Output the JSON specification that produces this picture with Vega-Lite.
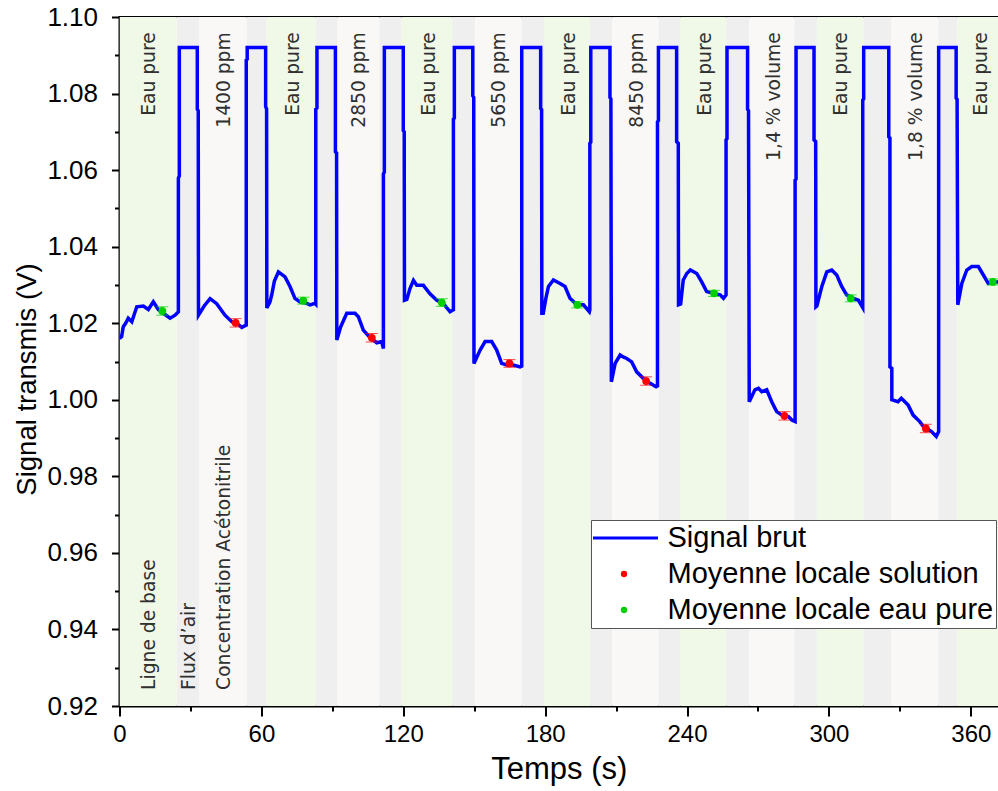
{
  "$schema": "https://vega.github.io/schema/vega-lite/v6.json",
  "width": 878.5,
  "height": 689,
  "autosize": {"type": "none"},
  "padding": {"left": 119.5, "top": 17, "right": 0, "bottom": 85},
  "background": "white",
  "config": {
    "view": {"stroke": "black", "strokeWidth": 2},
    "font": "Liberation Sans",
    "axis": {"grid": false, "labelColor": "black", "titleColor": "black", "tickColor": "black", "domainColor": "black", "domainWidth": 2, "tickWidth": 2, "titleFontWeight": "normal", "labelFont": "Liberation Sans", "titleFont": "Liberation Sans"},
    "legend": {"orient": "none", "legendX": 471.5, "legendY": 503, "padding": 2, "strokeColor": "#555555", "fillColor": "white", "labelFontSize": 29, "labelFont": "Liberation Sans", "labelColor": "black", "labelLimit": 0, "clipHeight": 32, "rowPadding": 4, "labelOffset": 29, "symbolOffset": 16.5}
  },
  "datasets": {
    "bands": [
      {"start": 0, "end": 24.2, "kind": "eau"},
      {"start": 24.2, "end": 33.6, "kind": "air"},
      {"start": 33.6, "end": 53.8, "kind": "sol"},
      {"start": 53.8, "end": 62.0, "kind": "air"},
      {"start": 62.0, "end": 83.0, "kind": "eau"},
      {"start": 83.0, "end": 92.3, "kind": "air"},
      {"start": 92.3, "end": 109.9, "kind": "sol"},
      {"start": 109.9, "end": 119.3, "kind": "air"},
      {"start": 119.3, "end": 140.7, "kind": "eau"},
      {"start": 140.7, "end": 150.3, "kind": "air"},
      {"start": 150.3, "end": 170.1, "kind": "sol"},
      {"start": 170.1, "end": 179.5, "kind": "air"},
      {"start": 179.5, "end": 199.0, "kind": "eau"},
      {"start": 199.0, "end": 208.4, "kind": "air"},
      {"start": 208.4, "end": 227.9, "kind": "sol"},
      {"start": 227.9, "end": 237.1, "kind": "air"},
      {"start": 237.1, "end": 256.6, "kind": "eau"},
      {"start": 256.6, "end": 266.3, "kind": "air"},
      {"start": 266.3, "end": 285.4, "kind": "sol"},
      {"start": 285.4, "end": 294.9, "kind": "air"},
      {"start": 294.9, "end": 314.6, "kind": "eau"},
      {"start": 314.6, "end": 326.3, "kind": "air"},
      {"start": 326.3, "end": 346.3, "kind": "sol"},
      {"start": 346.3, "end": 354.1, "kind": "air"},
      {"start": 354.1, "end": 380, "kind": "eau"}
    ],
    "topLabels": [
      {"x": 12.5, "text": "Eau pure"},
      {"x": 44.2, "text": "1400 ppm"},
      {"x": 73.2, "text": "Eau pure"},
      {"x": 101.4, "text": "2850 ppm"},
      {"x": 131.0, "text": "Eau pure"},
      {"x": 160.6, "text": "5650 ppm"},
      {"x": 190.0, "text": "Eau pure"},
      {"x": 218.7, "text": "8450 ppm"},
      {"x": 247.8, "text": "Eau pure"},
      {"x": 276.7, "text": "1,4 % volume"},
      {"x": 305.2, "text": "Eau pure"},
      {"x": 336.8, "text": "1,8 % volume"},
      {"x": 364.1, "text": "Eau pure"}
    ],
    "bottomLabels": [
      {"x": 12.5, "text": "Ligne de base"},
      {"x": 29.6, "text": "Flux d’air"},
      {"x": 44.2, "text": "Concentration Acétonitrile"}
    ],
    "signal": [
      {"t": 0, "v": 1.0160}, {"t": 0.9, "v": 1.0165}, {"t": 1.6, "v": 1.0191}, {"t": 2.6, "v": 1.0200}, {"t": 3.7, "v": 1.0213}, {"t": 5.2, "v": 1.0204}, {"t": 7.3, "v": 1.0243}, {"t": 10.1, "v": 1.0245}, {"t": 12.2, "v": 1.0236}, {"t": 14.3, "v": 1.0256}, {"t": 16.4, "v": 1.0236}, {"t": 18.5, "v": 1.0226}, {"t": 21.4, "v": 1.0213}, {"t": 23.5, "v": 1.0221}, {"t": 24.9, "v": 1.0230},
      {"t": 24.9, "v": 1.0579}, {"t": 25.3, "v": 1.0585}, {"t": 25.3, "v": 1.0920}, {"t": 32.9, "v": 1.0920}, {"t": 32.9, "v": 1.0759}, {"t": 33.3, "v": 1.0755}, {"t": 33.4, "v": 1.0221},
      {"t": 35.8, "v": 1.0245}, {"t": 38.3, "v": 1.0264}, {"t": 41.1, "v": 1.0251}, {"t": 44.6, "v": 1.0221}, {"t": 47.5, "v": 1.0204}, {"t": 49.6, "v": 1.0200}, {"t": 51.7, "v": 1.0189}, {"t": 53.6, "v": 1.0195},
      {"t": 53.6, "v": 1.0888}, {"t": 54.0, "v": 1.0890}, {"t": 54.0, "v": 1.0920}, {"t": 61.8, "v": 1.0920}, {"t": 61.8, "v": 1.0766}, {"t": 62.2, "v": 1.0760}, {"t": 62.3, "v": 1.0240},
      {"t": 63.6, "v": 1.0255}, {"t": 64.4, "v": 1.0275}, {"t": 65.5, "v": 1.0310}, {"t": 67.2, "v": 1.0334}, {"t": 70.0, "v": 1.0321}, {"t": 72.1, "v": 1.0296}, {"t": 74.2, "v": 1.0265}, {"t": 76.3, "v": 1.0256}, {"t": 79.2, "v": 1.0252}, {"t": 80.6, "v": 1.0248}, {"t": 82.7, "v": 1.0252}, {"t": 83.0, "v": 1.0250},
      {"t": 83.0, "v": 1.0759}, {"t": 83.5, "v": 1.0762}, {"t": 83.5, "v": 1.0920}, {"t": 91.3, "v": 1.0920}, {"t": 91.3, "v": 1.0648}, {"t": 91.8, "v": 1.0645}, {"t": 91.9, "v": 1.0156},
      {"t": 93.5, "v": 1.0190}, {"t": 96.1, "v": 1.0226}, {"t": 99.6, "v": 1.0226}, {"t": 101.0, "v": 1.0217}, {"t": 103.1, "v": 1.0182}, {"t": 105.9, "v": 1.0163}, {"t": 108.8, "v": 1.0149}, {"t": 110.9, "v": 1.0152}, {"t": 111.6, "v": 1.0134},
      {"t": 111.6, "v": 1.0590}, {"t": 112.0, "v": 1.0595}, {"t": 112.0, "v": 1.0920}, {"t": 120.0, "v": 1.0920}, {"t": 120.0, "v": 1.0703}, {"t": 120.4, "v": 1.0700}, {"t": 120.5, "v": 1.0260},
      {"t": 121.5, "v": 1.0262}, {"t": 122.8, "v": 1.0290}, {"t": 124.3, "v": 1.0312}, {"t": 125.7, "v": 1.0299}, {"t": 128.5, "v": 1.0299}, {"t": 131.3, "v": 1.0277}, {"t": 134.2, "v": 1.0260}, {"t": 136.9, "v": 1.0252}, {"t": 139.8, "v": 1.0230}, {"t": 141.2, "v": 1.0235},
      {"t": 141.2, "v": 1.0733}, {"t": 141.6, "v": 1.0736}, {"t": 141.6, "v": 1.0920}, {"t": 149.4, "v": 1.0920}, {"t": 149.4, "v": 1.0794}, {"t": 149.8, "v": 1.0790}, {"t": 149.9, "v": 1.0095},
      {"t": 152.5, "v": 1.0130}, {"t": 154.6, "v": 1.0152}, {"t": 157.4, "v": 1.0152}, {"t": 159.5, "v": 1.0130}, {"t": 161.6, "v": 1.0095}, {"t": 163.8, "v": 1.0091}, {"t": 166.5, "v": 1.0091}, {"t": 169.4, "v": 1.0086}, {"t": 170.1, "v": 1.0088},
      {"t": 170.1, "v": 1.0920}, {"t": 178.1, "v": 1.0920}, {"t": 178.1, "v": 1.0761}, {"t": 178.5, "v": 1.0758}, {"t": 178.6, "v": 1.0226},
      {"t": 179.2, "v": 1.0226}, {"t": 180.3, "v": 1.0265}, {"t": 181.4, "v": 1.0296}, {"t": 183.5, "v": 1.0313}, {"t": 186.3, "v": 1.0304}, {"t": 188.4, "v": 1.0296}, {"t": 190.5, "v": 1.0265}, {"t": 193.4, "v": 1.0248}, {"t": 196.2, "v": 1.0248}, {"t": 198.7, "v": 1.0230}, {"t": 198.9, "v": 1.0235},
      {"t": 198.9, "v": 1.0670}, {"t": 199.3, "v": 1.0673}, {"t": 199.3, "v": 1.0920}, {"t": 207.4, "v": 1.0920}, {"t": 207.4, "v": 1.0790}, {"t": 207.8, "v": 1.0786}, {"t": 208.0, "v": 1.0047},
      {"t": 209.6, "v": 1.0095}, {"t": 211.7, "v": 1.0117}, {"t": 213.0, "v": 1.0112}, {"t": 214.5, "v": 1.0108}, {"t": 216.6, "v": 1.0099}, {"t": 218.7, "v": 1.0073}, {"t": 221.5, "v": 1.0056}, {"t": 224.4, "v": 1.0043}, {"t": 226.9, "v": 1.0034}, {"t": 227.5, "v": 1.0036},
      {"t": 227.5, "v": 1.0726}, {"t": 227.9, "v": 1.0729}, {"t": 227.9, "v": 1.0920}, {"t": 235.6, "v": 1.0920}, {"t": 235.6, "v": 1.0674}, {"t": 236.3, "v": 1.0670}, {"t": 236.4, "v": 1.0248},
      {"t": 237.3, "v": 1.0250}, {"t": 238.4, "v": 1.0313}, {"t": 239.9, "v": 1.0330}, {"t": 241.4, "v": 1.0339}, {"t": 244.1, "v": 1.0330}, {"t": 246.2, "v": 1.0308}, {"t": 248.3, "v": 1.0283}, {"t": 251.1, "v": 1.0278}, {"t": 254.0, "v": 1.0274}, {"t": 255.4, "v": 1.0265}, {"t": 256.5, "v": 1.0274},
      {"t": 256.5, "v": 1.0679}, {"t": 256.9, "v": 1.0682}, {"t": 256.9, "v": 1.0920}, {"t": 265.6, "v": 1.0920}, {"t": 265.6, "v": 1.0759}, {"t": 266.0, "v": 1.0755}, {"t": 266.3, "v": 0.9995},
      {"t": 268.7, "v": 1.0026}, {"t": 270.2, "v": 1.0030}, {"t": 271.6, "v": 1.0021}, {"t": 273.7, "v": 1.0026}, {"t": 275.8, "v": 0.9995}, {"t": 277.9, "v": 0.9969}, {"t": 280.1, "v": 0.9960}, {"t": 282.9, "v": 0.9956}, {"t": 284.3, "v": 0.9947}, {"t": 285.7, "v": 0.9943},
      {"t": 285.7, "v": 1.0574}, {"t": 286.1, "v": 1.0577}, {"t": 286.1, "v": 1.0920}, {"t": 293.7, "v": 1.0920}, {"t": 293.7, "v": 1.0679}, {"t": 294.4, "v": 1.0675}, {"t": 294.5, "v": 1.0243},
      {"t": 294.9, "v": 1.0245}, {"t": 297.0, "v": 1.0296}, {"t": 299.1, "v": 1.0334}, {"t": 301.2, "v": 1.0339}, {"t": 303.3, "v": 1.0326}, {"t": 305.4, "v": 1.0296}, {"t": 307.5, "v": 1.0274}, {"t": 310.3, "v": 1.0265}, {"t": 312.5, "v": 1.0260}, {"t": 314.3, "v": 1.0241},
      {"t": 314.3, "v": 1.0783}, {"t": 314.7, "v": 1.0786}, {"t": 314.7, "v": 1.0920}, {"t": 325.3, "v": 1.0920}, {"t": 325.3, "v": 1.0687}, {"t": 325.8, "v": 1.0684}, {"t": 325.8, "v": 1.0086}, {"t": 326.6, "v": 1.0082}, {"t": 326.6, "v": 1.0000},
      {"t": 329.2, "v": 0.9995}, {"t": 330.6, "v": 1.0004}, {"t": 333.5, "v": 0.9986}, {"t": 335.6, "v": 0.9960}, {"t": 338.4, "v": 0.9943}, {"t": 340.0, "v": 0.9930}, {"t": 343.4, "v": 0.9917}, {"t": 345.4, "v": 0.9904}, {"t": 346.4, "v": 0.9917},
      {"t": 346.4, "v": 1.0920}, {"t": 353.8, "v": 1.0920}, {"t": 353.8, "v": 1.0788}, {"t": 354.2, "v": 1.0785}, {"t": 354.5, "v": 1.0248},
      {"t": 356.2, "v": 1.0304}, {"t": 358.3, "v": 1.0339}, {"t": 360.4, "v": 1.0348}, {"t": 363.2, "v": 1.0348}, {"t": 365.3, "v": 1.0326}, {"t": 367.4, "v": 1.0304}, {"t": 369.6, "v": 1.0308}, {"t": 371.5, "v": 1.0308}, {"t": 374.0, "v": 1.0312}
    ],
    "means": [
      {"t": 49.1, "v": 1.0201, "lo": 1.0190, "hi": 1.0212, "series": "Moyenne locale solution"},
      {"t": 106.7, "v": 1.0162, "lo": 1.0151, "hi": 1.0173, "series": "Moyenne locale solution"},
      {"t": 164.9, "v": 1.0095, "lo": 1.0085, "hi": 1.0105, "series": "Moyenne locale solution"},
      {"t": 222.7, "v": 1.0049, "lo": 1.0038, "hi": 1.0060, "series": "Moyenne locale solution"},
      {"t": 281.2, "v": 0.9958, "lo": 0.9947, "hi": 0.9969, "series": "Moyenne locale solution"},
      {"t": 341.0, "v": 0.9925, "lo": 0.9914, "hi": 0.9936, "series": "Moyenne locale solution"},
      {"t": 18.1, "v": 1.0232, "lo": 1.0221, "hi": 1.0243, "series": "Moyenne locale eau pure"},
      {"t": 77.7, "v": 1.0259, "lo": 1.0250, "hi": 1.0268, "series": "Moyenne locale eau pure"},
      {"t": 136.3, "v": 1.0254, "lo": 1.0244, "hi": 1.0264, "series": "Moyenne locale eau pure"},
      {"t": 193.6, "v": 1.0248, "lo": 1.0240, "hi": 1.0256, "series": "Moyenne locale eau pure"},
      {"t": 251.4, "v": 1.0278, "lo": 1.0270, "hi": 1.0286, "series": "Moyenne locale eau pure"},
      {"t": 309.2, "v": 1.0265, "lo": 1.0256, "hi": 1.0274, "series": "Moyenne locale eau pure"},
      {"t": 369.3, "v": 1.0308, "lo": 1.0300, "hi": 1.0316, "series": "Moyenne locale eau pure"}
    ]
  },
  "resolve": {"axis": {"x": "independent", "y": "independent"}},
  "layer": [
    {
      "data": {"name": "bands"},
      "mark": {"type": "rect", "clip": true},
      "encoding": {
        "x": {"field": "start", "type": "quantitative", "scale": {"domain": [0, 371.5], "nice": false, "zero": false},
          "axis": {"orient": "bottom", "values": [0, 60, 120, 180, 240, 300, 360], "tickSize": 10, "labelFontSize": 24, "labelPadding": 6, "title": "Temps (s)", "titleFontSize": 31, "titlePadding": 8, "labelFlush": false}},
        "x2": {"field": "end"},
        "fill": {"field": "kind", "type": "nominal", "legend": null, "scale": {"domain": ["eau", "air", "sol"], "range": ["#f0f8e8", "#efefef", "#f9f8f6"]}}
      }
    },
    {
      "data": {"name": "topLabels"},
      "mark": {"type": "text", "angle": 270, "align": "right", "baseline": "middle", "font": "DejaVu Sans", "fontSize": 18.7, "color": "#303030"},
      "encoding": {
        "x": {"field": "x", "type": "quantitative", "axis": {"orient": "bottom", "values": [30, 90, 150, 210, 270, 330], "tickSize": 5, "labels": false, "domain": false, "title": null}},
        "y": {"datum": 1.0960, "type": "quantitative", "scale": {"domain": [0.92, 1.10], "nice": false, "zero": false},
          "axis": {"orient": "left", "values": [0.93, 0.95, 0.97, 0.99, 1.01, 1.03, 1.05, 1.07, 1.09], "tickSize": 5, "labels": false, "domain": false, "title": null}},
        "text": {"field": "text"}
      }
    },
    {
      "data": {"name": "bottomLabels"},
      "mark": {"type": "text", "angle": 270, "align": "left", "baseline": "middle", "font": "DejaVu Sans", "fontSize": 18.7, "color": "#303030"},
      "encoding": {
        "x": {"field": "x", "type": "quantitative", "axis": null},
        "y": {"datum": 0.9242, "type": "quantitative", "axis": null},
        "text": {"field": "text"}
      }
    },
    {
      "data": {"name": "signal"},
      "mark": {"type": "line", "strokeWidth": 3.5, "clip": true, "interpolate": "linear"},
      "encoding": {
        "x": {"field": "t", "type": "quantitative", "axis": null},
        "y": {"field": "v", "type": "quantitative",
          "axis": {"orient": "left", "values": [0.92, 0.94, 0.96, 0.98, 1.0, 1.02, 1.04, 1.06, 1.08, 1.1], "format": ".2f", "tickSize": 8, "labelFontSize": 26, "labelPadding": 14, "title": "Signal transmis (V)", "titleFontSize": 27.5, "titlePadding": 5, "titleY": 362, "labelFlush": false}},
        "color": {"datum": "Signal brut", "type": "nominal",
          "scale": {"domain": ["Signal brut", "Moyenne locale solution", "Moyenne locale eau pure"], "range": ["#0000ff", "#ff0000", "#00d000"]},
          "legend": {
            "title": null, "symbolType": "stroke",
            "encode": {"symbols": {"update": {
              "shape": {"signal": "datum.value === 'Signal brut' ? 'stroke' : 'circle'"},
              "size": {"signal": "datum.value === 'Signal brut' ? 4624 : 40"},
              "strokeWidth": {"signal": "datum.value === 'Signal brut' ? 3 : 0"},
              "stroke": {"signal": "scale('color', datum.value)"},
              "fill": {"signal": "datum.value === 'Signal brut' ? 'transparent' : scale('color', datum.value)"},
              "opacity": {"value": 1}
            }}}
          }}
      }
    },
    {
      "data": {"name": "means"},
      "mark": {"type": "rule", "strokeWidth": 1},
      "encoding": {
        "x": {"field": "t", "type": "quantitative", "axis": null},
        "y": {"field": "lo", "type": "quantitative", "axis": null},
        "y2": {"field": "hi"},
        "color": {"field": "series", "type": "nominal", "title": null}
      }
    },
    {
      "data": {"name": "means"},
      "mark": {"type": "tick", "orient": "horizontal", "size": 12, "thickness": 1},
      "encoding": {
        "x": {"field": "t", "type": "quantitative", "axis": null},
        "y": {"field": "lo", "type": "quantitative", "axis": null},
        "color": {"field": "series", "type": "nominal", "title": null}
      }
    },
    {
      "data": {"name": "means"},
      "mark": {"type": "tick", "orient": "horizontal", "size": 12, "thickness": 1},
      "encoding": {
        "x": {"field": "t", "type": "quantitative", "axis": null},
        "y": {"field": "hi", "type": "quantitative", "axis": null},
        "color": {"field": "series", "type": "nominal", "title": null}
      }
    },
    {
      "data": {"name": "means"},
      "mark": {"type": "point", "filled": true, "size": 60, "opacity": 1},
      "encoding": {
        "x": {"field": "t", "type": "quantitative", "axis": null},
        "y": {"field": "v", "type": "quantitative", "axis": null},
        "color": {"field": "series", "type": "nominal", "title": null}
      }
    }
  ]
}
